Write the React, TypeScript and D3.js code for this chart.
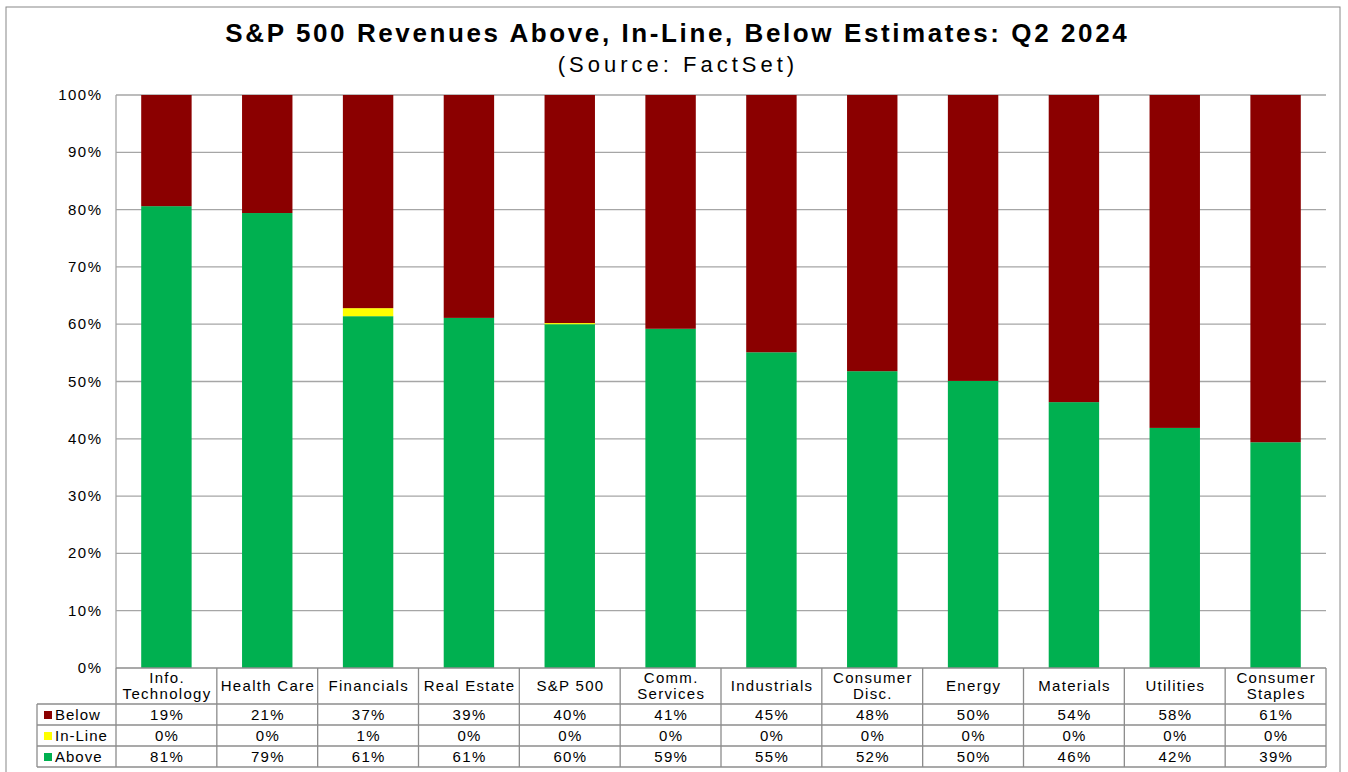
import React from "react";
import * as d3 from "d3";

const categories = [
  ["Info.", "Technology"],
  ["Health Care"],
  ["Financials"],
  ["Real Estate"],
  ["S&P 500"],
  ["Comm.", "Services"],
  ["Industrials"],
  ["Consumer", "Disc."],
  ["Energy"],
  ["Materials"],
  ["Utilities"],
  ["Consumer", "Staples"],
];
const aboveValues = [80.6, 79.4, 61.4, 61.1, 60.0, 59.2, 55.1, 51.8, 50.1, 46.4, 41.9, 39.4];
const inLineValues = [0, 0, 1.4, 0, 0.2, 0, 0, 0, 0, 0, 0, 0];
const belowValues = aboveValues.map((a, i) => 100 - a - inLineValues[i]);
const aboveLabels = ["81%", "79%", "61%", "61%", "60%", "59%", "55%", "52%", "50%", "46%", "42%", "39%"];
const inLineLabels = ["0%", "0%", "1%", "0%", "0%", "0%", "0%", "0%", "0%", "0%", "0%", "0%"];
const belowLabels = ["19%", "21%", "37%", "39%", "40%", "41%", "45%", "48%", "50%", "54%", "58%", "61%"];
const yTicks = [0, 10, 20, 30, 40, 50, 60, 70, 80, 90, 100];

const COLORS = { below: "#8B0000", inline: "#FFFF00", above: "#00B050" };
const FONT = "Arial, 'Liberation Sans', Helvetica, sans-serif";

export default function App() {
  const W = 1348, H = 772;
  const left = 116, right = 1326, top = 95, bottom = 668;
  const x = d3.scaleBand<number>().domain(d3.range(12)).range([left, right]).paddingInner(0.5).paddingOuter(0.25);
  const y = d3.scaleLinear().domain([0, 100]).range([bottom, top]);
  const step = x.step();
  const rowY = [668, 704, 725, 746, 767];
  const grid = "#a6a6a6";
  const tableLine = "#8c8c8c";
  const ls = 1.3;
  const fs = 15;
  const rows = [
    { name: "Below", color: COLORS.below, labels: belowLabels },
    { name: "In-Line", color: COLORS.inline, labels: inLineLabels },
    { name: "Above", color: COLORS.above, labels: aboveLabels },
  ];
  const C = (props: any) => (
    <text textAnchor="middle" fontSize={fs} letterSpacing={ls} dx={ls / 2} fill="#000" {...props} />
  );
  return (
    <svg width={W} height={H} style={{ position: "absolute", left: 0, top: 0, background: "#fff" }} fontFamily={FONT}>
      <rect x={6} y={7} width={1334} height={780} fill="#fff" stroke="#888" strokeWidth={1} />
      <text x={676} y={42} textAnchor="middle" fontSize={26} fontWeight="bold" letterSpacing={2.6} dx={1.3} fill="#000">
        S&amp;P 500 Revenues Above, In-Line, Below Estimates: Q2 2024
      </text>
      <text x={676} y={72} textAnchor="middle" fontSize={22} letterSpacing={4} dx={2} fill="#000">(Source: FactSet)</text>
      {yTicks.map((t) => (
        <g key={t}>
          {t > 0 && <line x1={left} x2={right} y1={y(t)} y2={y(t)} stroke={grid} strokeWidth={1.3} />}
          <text x={101 + 1.5} y={y(t) + 5} textAnchor="end" fontSize={fs} letterSpacing={1.5} fill="#000">{t}%</text>
        </g>
      ))}
      {categories.map((_, i) => {
        const bx = x(i)!;
        const bw = x.bandwidth();
        const a = aboveValues[i], m = inLineValues[i], b = belowValues[i];
        return (
          <g key={i}>
            <rect x={bx} y={y(a)} width={bw} height={y(0) - y(a)} fill={COLORS.above} />
            {m > 0 && <rect x={bx} y={y(a + m)} width={bw} height={y(a) - y(a + m)} fill={COLORS.inline} />}
            <rect x={bx} y={y(a + m + b)} width={bw} height={y(a + m) - y(a + m + b)} fill={COLORS.below} />
          </g>
        );
      })}
      <line x1={left} x2={left} y1={top} y2={bottom} stroke={grid} strokeWidth={1.3} />
      {/* table */}
      <line x1={left} x2={right} y1={rowY[0]} y2={rowY[0]} stroke={tableLine} strokeWidth={1.3} />
      {rowY.slice(1).map((ry) => (
        <line key={ry} x1={37} x2={right} y1={ry} y2={ry} stroke={tableLine} strokeWidth={1.3} />
      ))}
      <line x1={37} x2={37} y1={rowY[1]} y2={rowY[4]} stroke={tableLine} strokeWidth={1.3} />
      {d3.range(13).map((k) => (
        <line key={k} x1={left + k * step} x2={left + k * step} y1={rowY[0]} y2={rowY[4]} stroke={tableLine} strokeWidth={1.3} />
      ))}
      {categories.map((lines, i) => {
        const cx = left + (i + 0.5) * step;
        return (
          <g key={i}>
            {lines.length === 1 ? (
              <C x={cx} y={691}>{lines[0]}</C>
            ) : (
              <>
                <C x={cx} y={683}>{lines[0]}</C>
                <C x={cx} y={699}>{lines[1]}</C>
              </>
            )}
            {rows.map((r, j) => (
              <C key={j} x={cx} y={rowY[j + 1] + 16}>{r.labels[i]}</C>
            ))}
          </g>
        );
      })}
      {rows.map((r, j) => (
        <g key={r.name}>
          <rect x={44} y={rowY[j + 1] + 7} width={8} height={8} fill={r.color} />
          <text x={55} y={rowY[j + 1] + 16} fontSize={fs} letterSpacing={1} fill="#000">{r.name}</text>
        </g>
      ))}
    </svg>
  );
}
